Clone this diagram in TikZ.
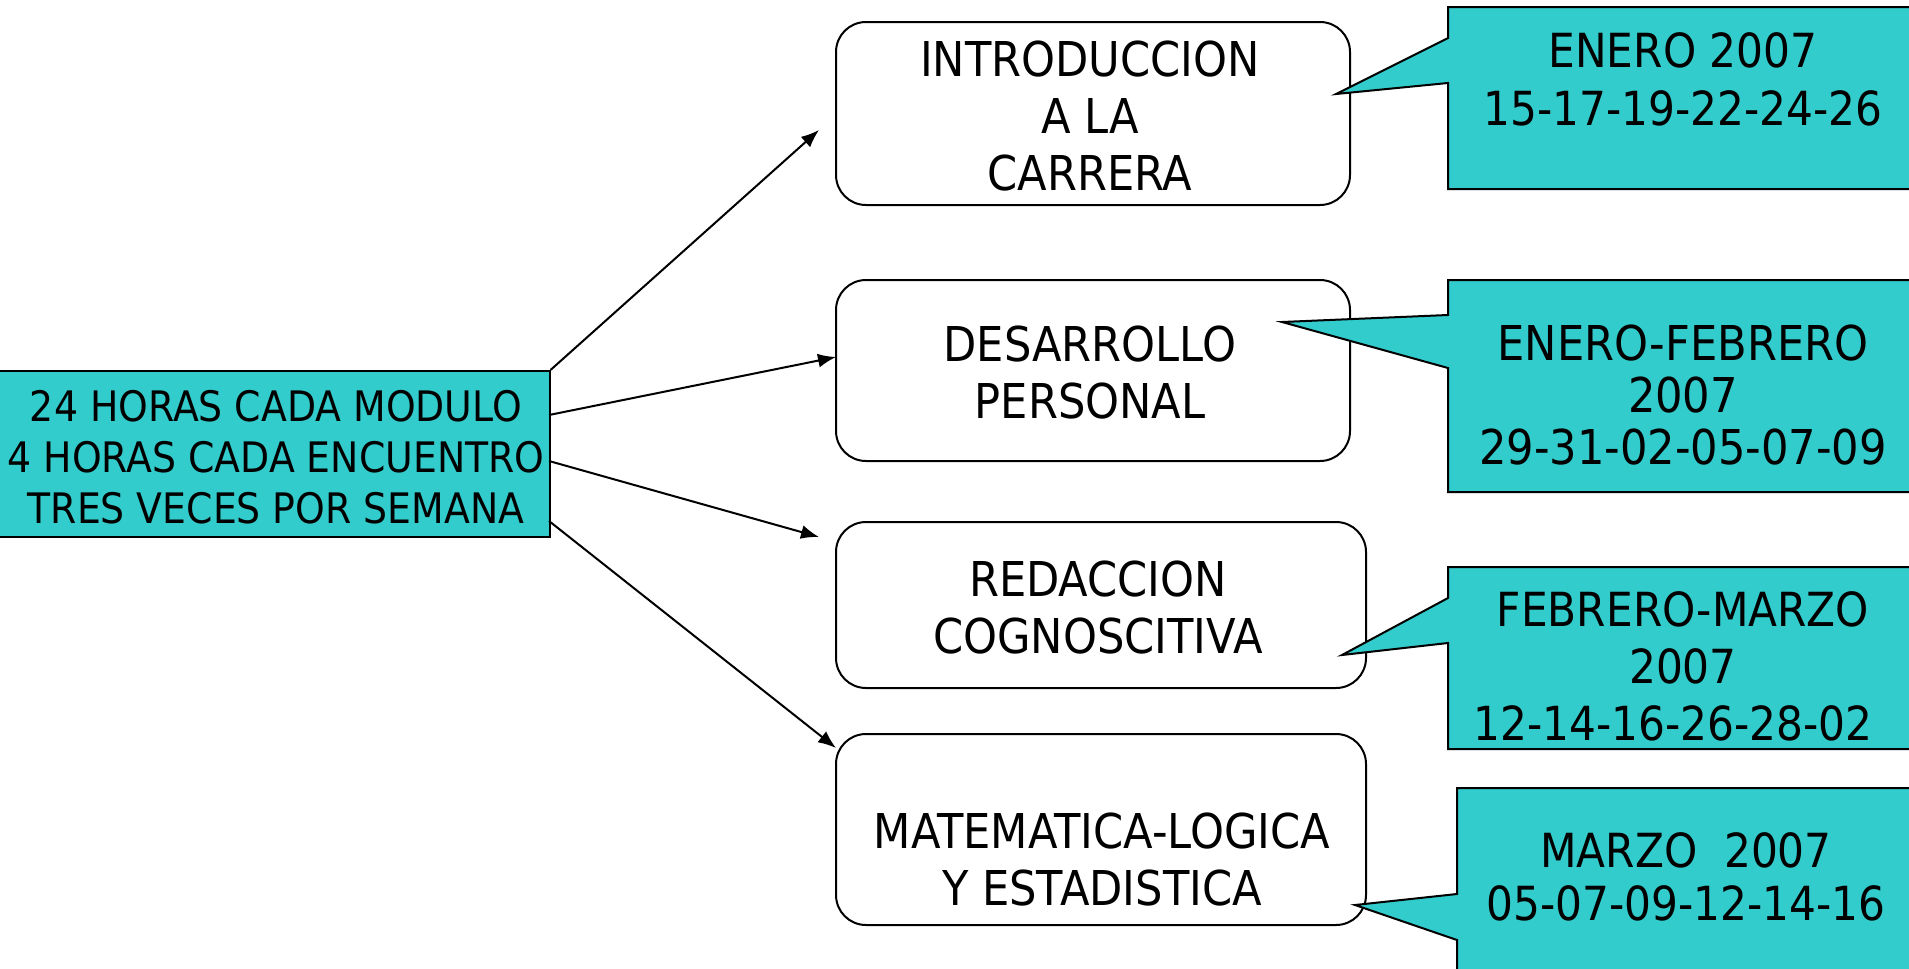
\documentclass[tikz,border=0pt]{standalone}
\usepackage{fontspec}
\setmainfont{DejaVu Sans}[FakeStretch=0.9]
\usetikzlibrary{arrows.meta}
\definecolor{tealfill}{RGB}{51,204,204}
\tikzset{
  rbox/.style={draw=black, line width=2pt, rounded corners=30pt, fill=white, inner sep=0pt},
  srcbox/.style={draw=black, line width=2pt, fill=tealfill, inner sep=0pt},
  callout/.style={draw=black, line width=2pt, fill=tealfill, line join=miter},
  btext/.style={align=center, inner sep=0pt, font=\fontsize{48}{57}\selectfont},
  ctext/.style={align=center, inner sep=0pt},
  link/.style={line width=2pt, -{Latex[length=18pt,width=14pt]}},
}
\begin{document}
\begin{tikzpicture}[x=1pt,y=-1pt]
\useasboundingbox (0,0) rectangle (1909,969);
\clip (0,0) rectangle (1909,969);

% source box
\node[srcbox, minimum width=551pt, minimum height=166pt] (src) at (274,454) {};
\node[align=center, inner sep=0pt, font=\fontsize{42}{51}\selectfont] (srct) at (276,457)
  {24 HORAS CADA MODULO\\4 HORAS CADA ENCUENTRO\\TRES VECES POR SEMANA};

% module boxes
\node[rbox, minimum width=514pt, minimum height=183pt] (b1) at (1093,113.5) {};
\node[rbox, minimum width=514pt, minimum height=181pt] (b2) at (1093,370.5) {};
\node[rbox, minimum width=530pt, minimum height=166pt] (b3) at (1101,605) {};
\node[rbox, minimum width=530pt, minimum height=191pt] (b4) at (1101,829.5) {};

\node[btext] (b1t) at (1090,116) {INTRODUCCION\\A LA\\CARRERA};
\node[btext] (b2t) at (1090,373) {DESARROLLO\\PERSONAL};
\node[btext] (b3t) at (1098,608) {REDACCION\\COGNOSCITIVA};
\node[btext] (b4t) at (1102,860) {MATEMATICA-LOGICA\\Y ESTADISTICA};

% callouts
\draw[callout] (1448,7) -- (1915,7) -- (1915,189) -- (1448,189) -- (1448,83) -- (1336,94) -- (1448,38) -- cycle;
\draw[callout] (1448,280) -- (1915,280) -- (1915,492) -- (1448,492) -- (1448,368) -- (1282,322) -- (1448,315) -- cycle;
\draw[callout] (1448,567) -- (1915,567) -- (1915,749) -- (1448,749) -- (1448,643) -- (1342,655) -- (1448,598) -- cycle;
\draw[callout] (1457,788) -- (1915,788) -- (1915,975) -- (1457,975) -- (1457,940) -- (1355,905) -- (1457,894) -- cycle;

\node[ctext, font=\fontsize{47}{58}\selectfont] (c1t) at (1683,79) {ENERO 2007\\15-17-19-22-24-26};
\node[ctext, font=\fontsize{48}{52}\selectfont] (c2t) at (1683,395) {ENERO-FEBRERO\\2007\\29-31-02-05-07-09};
\node[ctext, font=\fontsize{47}{57}\selectfont] (c3t) at (1683,666) {FEBRERO-MARZO\\2007\\12-14-16-26-28-02\hspace*{20pt}};
\node[ctext, font=\fontsize{47}{53}\selectfont] (c4t) at (1686,877) {MARZO~~2007\\05-07-09-12-14-16};

% connectors
\coordinate (s2) at (549,415);
\coordinate (s3) at (549,461);
\coordinate (s4) at (549,521);
\coordinate (e1) at (819,130);
\coordinate (e2) at (836,357);
\coordinate (e3) at (819,537);
\coordinate (e4) at (836,748);
\draw[link] (src.north east) -- (e1);
\draw[link] (s2) -- (e2);
\draw[link] (s3) -- (e3);
\draw[link] (s4) -- (e4);
\end{tikzpicture}
\end{document}
